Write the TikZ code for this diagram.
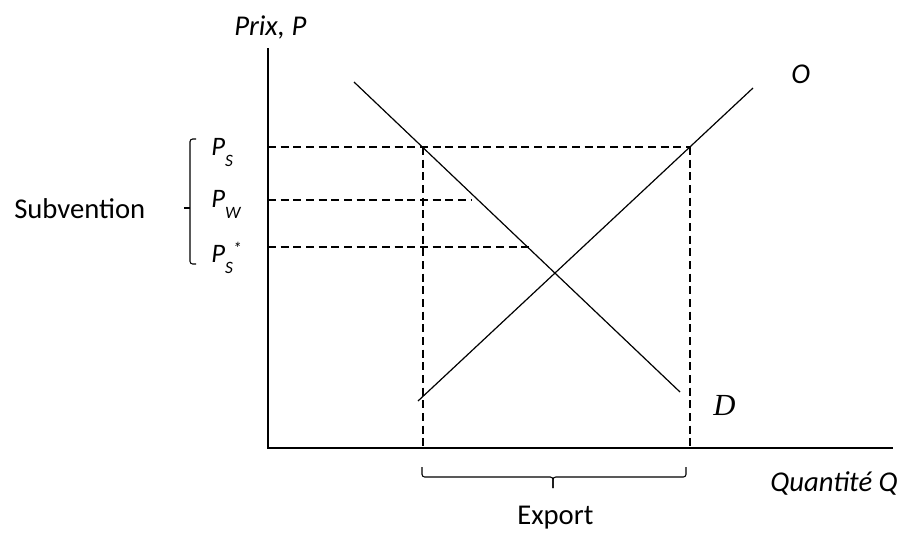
\documentclass[tikz,border=0pt]{standalone}
\usepackage{fontspec}
\setmainfont{Carlito}
\newfontfamily\serifit{Liberation Serif}
\usetikzlibrary{positioning, calc}

\newcommand{\lowidx}[1]{\raisebox{-0.42em}{\fontsize{13}{13}\selectfont #1}}
\newcommand{\highstar}{\raisebox{0.3em}{\fontsize{13}{13}\selectfont *}}

\begin{document}
\begin{tikzpicture}[
    x=0.75pt, y=-0.75pt,
    axis/.style={line width=0.9pt},
    curve/.style={line width=0.9pt},
    guide/.style={dash pattern=on 6pt off 3.5pt, line width=0.8pt},
    brace/.style={line width=0.8pt, rounded corners=2pt},
    txt/.style={font=\fontsize{21.5}{24}\selectfont, inner sep=0pt, anchor=base west},
    itxt/.style={font=\fontsize{21.5}{24}\selectfont\itshape, inner sep=0pt, anchor=base west},
    plab/.style={font=\fontsize{20}{24}\selectfont\itshape, inner sep=0pt, anchor=base west}
]
\useasboundingbox (0,0) rectangle (902,533);

% axes
\coordinate (origin) at (268,448);
\coordinate (ytop) at (268,48);
\coordinate (xend) at (893,448);
\draw [axis] (ytop) -- (origin) -- (xend);

\node (ylab) [itxt] at (234,35) {Prix, P};
\node (xlab) [itxt] at (770,491) {Quantité Q};

% supply and demand
\coordinate (o_lo) at (418,401);
\coordinate (o_hi) at (753,88);
\coordinate (d_hi) at (354,82);
\coordinate (d_lo) at (680,392);
\draw [curve] (o_lo) -- (o_hi);
\draw [curve] (d_hi) -- (d_lo);
\node (olab) [itxt] at (791,83) {O};
\node (dlab) [font=\fontsize{23}{26}\selectfont\serifit\itshape, inner sep=0pt, anchor=base west] at (713,415) {D};

% price levels
\coordinate (ps_ax) at (268,147);
\coordinate (pw_ax) at (268,200);
\coordinate (pss_ax) at (268,247);
\coordinate (ps_d) at (423,147);
\coordinate (ps_o) at (690,147);
\coordinate (pw_end) at (471,200);
\coordinate (pss_end) at (531,247);
\coordinate (q_d) at (423,448);
\coordinate (q_o) at (690,448);
\draw [guide] (ps_ax) -- (ps_o);
\draw [guide] (pw_ax) -- (pw_end);
\draw [guide] (pss_ax) -- (pss_end);
\draw [guide] (ps_d) -- (q_d);
\draw [guide] (ps_o) -- (q_o);

\node (ps) [plab] at (211,155) {P\lowidx{S}};
\node (pw) [plab] at (211,207) {P\lowidx{W}};
\node (pss) [plab] at (211,262) {P\lowidx{S}\highstar};

% subsidy bracket
\draw [brace] (196,139) -- (190,139) -- (190,264) -- (196,264);
\coordinate (sub_tip) at (184,208);
\draw [line width=0.8pt] (190,208) -- (sub_tip);
\node (subv) [txt] at (14,218) {Subvention};

% export brace
\draw [brace] (422,467) -- (422,477) -- (553,477) -- (553,488);
\draw [brace] (553,488) -- (553,477) -- (686,477) -- (686,467);
\node (exp) [txt] at (517,524) {Export};

\end{tikzpicture}
\end{document}
